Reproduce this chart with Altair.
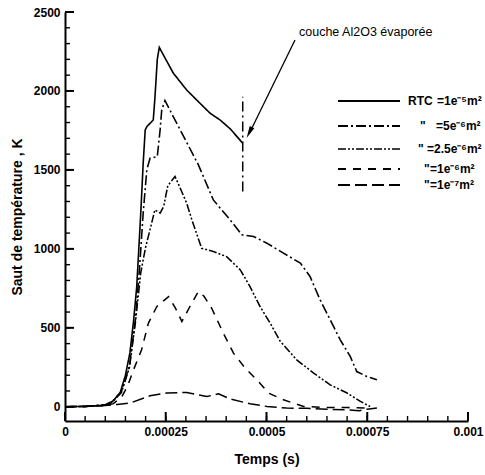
import altair as alt
import pandas as pd

FONT = "Liberation Sans"

# ---------------- data ----------------
SERIES = ["1e-5", "5e-6", "2.5e-6", "1e-6", "1e-7"]
# legend texts: (prefix, value) per row
LEGEND_PREFIX = ["RTC", "\"", "\"", "\"", "\""]
LEGEND_VALUE = ["=1e\u207b\u2075m\u00b2", "=5e\u207b\u2076m\u00b2", "=2.5e\u207b\u2076m\u00b2",
                "=1e\u207b\u2076m\u00b2", "=1e\u207b\u2077m\u00b2"]

T_1E5 = [0, 0.00005, 0.0001, 0.000112, 0.00012, 0.000137, 0.00015, 0.000161, 0.00017, 0.000178,
         0.000188, 0.000194, 0.000199, 0.000203, 0.000219, 0.000223, 0.000229, 0.000234,
         0.00025, 0.000269, 0.000302, 0.000331, 0.00036, 0.000385, 0.00041, 0.000441]
Y_1E5 = [0, 3, 10, 20, 40, 90, 200, 341, 540, 761,
         1226, 1542, 1753, 1774, 1816, 1950, 2200, 2276,
         2200, 2112, 2006, 1932, 1859, 1816, 1760, 1669]

T_5E6 = [0, 0.00005, 0.0001, 0.00012, 0.00014, 0.00016, 0.000175, 0.000185, 0.000194, 0.000203,
         0.000211, 0.000229, 0.000236, 0.00024, 0.000248, 0.000262, 0.000286, 0.000331, 0.000368, 0.00041,
         0.000439, 0.000468, 0.000501, 0.000542, 0.000584, 0.000608, 0.000633, 0.000658, 0.000683, 0.000708,
         0.000724, 0.000749, 0.000774]
Y_5E6 = [0, 2, 12, 40, 95, 260, 560, 880, 1226, 1500,
         1574, 1584, 1753, 1880, 1939, 1870, 1753, 1532, 1310, 1183,
         1089, 1078, 1036, 973, 910, 825, 677, 551, 424, 318,
         223, 192, 171]

T_25E6 = [0, 0.00005, 0.0001, 0.00012, 0.00014, 0.00016, 0.000175, 0.000188, 0.0002, 0.000215,
          0.000223, 0.000236, 0.000245, 0.000255, 0.000273, 0.000285, 0.000302, 0.000315, 0.000339, 0.000368,
          0.000401, 0.000435, 0.000459, 0.000484, 0.000509, 0.000534, 0.000575, 0.000617, 0.000658, 0.0007,
          0.000733, 0.000757]
Y_25E6 = [0, 2, 12, 38, 90, 250, 540, 850, 1010, 1163,
          1247, 1226, 1270, 1400, 1458, 1390, 1289, 1183, 1004, 983,
          951, 867, 761, 635, 530, 415, 297, 213, 139, 87,
          34, 2]

T_1E6 = [0, 0.00005, 0.0001, 0.00012, 0.00014, 0.000155, 0.00017, 0.00019, 0.000207, 0.000228,
         0.000257, 0.000275, 0.00029, 0.00031, 0.000331, 0.000345, 0.000364, 0.000393, 0.000418, 0.000447,
         0.00048, 0.000505, 0.000542, 0.000592, 0.00065, 0.0007, 0.00075]
Y_1E6 = [0, 2, 8, 20, 60, 130, 234, 361, 530, 635,
         698, 620, 540, 635, 730, 700, 624, 466, 340, 245,
         160, 87, 44, 2, -5, -5, -8]

T_1E7 = [0, 0.00005, 0.0001, 0.00013, 0.000161, 0.000211, 0.000253, 0.000302, 0.000352, 0.000381,
         0.00041, 0.000459, 0.000501, 0.00055, 0.0006, 0.00065, 0.0007, 0.00073, 0.00075, 0.000774]
Y_1E7 = [0, 2, 8, 15, 23, 70, 87, 91, 65, 82,
         49, 19, 2, -8, -10, -15, -20, -25, -15, -8]

X_MAJOR = [0, 0.00025, 0.0005, 0.00075, 0.001]
X_MINOR = [round(i * 0.00005, 6) for i in range(21)]
Y_MAJOR = [0, 500, 1000, 1500, 2000, 2500]
Y_MINOR = [i * 100 for i in range(26)]

EVAP_T = [0.000441]
EVAP_LOW = [1363]
EVAP_HIGH = [1964]
ANNOT_TEXT = "couche Al2O3 évaporée"

# ---------------- styles / layout ----------------
DASHES = [[1, 0], [10, 3, 2, 3], [8, 2, 2, 2, 2, 2], [8, 7], [12, 5]]
WIDTHS = [1.6, 1.5, 1.4, 1.8, 1.8]
LEG_Y = [89, 114, 137, 157, 173]
LEG_PREFIX_X = [343, 355, 353, 359, 359]
LEG_VALUE_X = [372, 371, 362, 365, 365]

W, H = 403, 409
X_DOM = [0, 0.001]
Y_DOM = [-90, 2500]
x_scale = alt.Scale(domain=X_DOM, nice=False, zero=False)
y_scale = alt.Scale(domain=Y_DOM, nice=False, zero=False)

PX_X = (X_DOM[1] - X_DOM[0]) / W
PX_Y = (Y_DOM[1] - Y_DOM[0]) / H
MAJOR_LEN, MINOR_LEN = 9, 5

rows = []
for name, ts, vs in zip(SERIES, [T_1E5, T_5E6, T_25E6, T_1E6, T_1E7],
                        [Y_1E5, Y_5E6, Y_25E6, Y_1E6, Y_1E7]):
    for t, v in zip(ts, vs):
        rows.append({"series": name, "t": t, "v": v})
df = pd.DataFrame(rows)

axis_common = dict(grid=False, ticks=False, domainColor="black", domainWidth=2,
                   labelFont=FONT, labelFontWeight="bold", labelFontSize=12, labelColor="black",
                   labelPadding=5, labelFlush=False, labelOverlap=False,
                   titleFont=FONT, titleFontWeight="bold", titleFontSize=14, titleColor="black")

lines = alt.Chart(df).mark_line(color="black", strokeCap="butt").encode(
    x=alt.X("t:Q", scale=x_scale,
            axis=alt.Axis(values=X_MAJOR, labelExpr="format(datum.value, '.5~f')",
                          title="Temps (s)", titlePadding=15, **axis_common)),
    y=alt.Y("v:Q", scale=y_scale,
            axis=alt.Axis(values=Y_MAJOR, format="d", title="Saut de température , K",
                          titlePadding=9, **axis_common)),
    strokeDash=alt.StrokeDash("series:N", scale=alt.Scale(domain=SERIES, range=DASHES), legend=None),
    strokeWidth=alt.StrokeWidth("series:N", scale=alt.Scale(domain=SERIES, range=WIDTHS), legend=None),
)


def xticks(vals, length, width):
    d = pd.DataFrame({"t": vals})
    d["v"] = Y_DOM[0]
    d["v2"] = Y_DOM[0] + length * PX_Y
    return alt.Chart(d).mark_rule(color="black", strokeWidth=width, strokeCap="butt").encode(
        x=alt.X("t:Q", scale=x_scale), y=alt.Y("v:Q", scale=y_scale), y2="v2:Q")


def yticks(vals, length, width):
    d = pd.DataFrame({"v": vals})
    d["t"] = X_DOM[0]
    d["t2"] = X_DOM[0] + length * PX_X
    return alt.Chart(d).mark_rule(color="black", strokeWidth=width, strokeCap="butt").encode(
        y=alt.Y("v:Q", scale=y_scale), x=alt.X("t:Q", scale=x_scale), x2="t2:Q")


x_minor = xticks(X_MINOR, MINOR_LEN, 1.4)
x_major = xticks(X_MAJOR, MAJOR_LEN, 2)
y_minor = yticks(Y_MINOR, MINOR_LEN, 1.4)
y_major = yticks(Y_MAJOR, MAJOR_LEN, 2)

evap = alt.Chart(pd.DataFrame({"t": EVAP_T, "v": EVAP_LOW, "v2": EVAP_HIGH})).mark_rule(
    color="black", strokeWidth=1.5, strokeDash=[10, 4, 2, 4]).encode(
    x=alt.X("t:Q", scale=x_scale), y=alt.Y("v:Q", scale=y_scale), y2="v2:Q")

one = pd.DataFrame({"a": [0]})
annot_text = alt.Chart(one).mark_text(align="left", baseline="middle", font=FONT, fontSize=12.5,
                                      color="black", text=ANNOT_TEXT).encode(
    x=alt.value(234), y=alt.value(20))
arrow_line = alt.Chart(one).mark_rule(color="black", strokeWidth=1.3).encode(
    x=alt.value(230), y=alt.value(28), x2=alt.value(184.5), y2=alt.value(121))
arrow_head = alt.Chart(one).mark_point(shape="M0,-1L0.42,1L-0.42,1Z", filled=True, size=150,
                                       angle=206.2, color="black", opacity=1).encode(
    x=alt.value(184.3), y=alt.value(120.6))

legend_layers = []
for dash, wdt, pre, val, yy, px, vx in zip(DASHES, WIDTHS, LEGEND_PREFIX, LEGEND_VALUE,
                                           LEG_Y, LEG_PREFIX_X, LEG_VALUE_X):
    legend_layers.append(alt.Chart(one).mark_rule(color="black", strokeWidth=wdt + 0.3,
                                                  strokeDash=dash, strokeCap="butt").encode(
        x=alt.value(273), x2=alt.value(335), y=alt.value(yy)))
    for txt, xx in ((pre, px), (val, vx)):
        legend_layers.append(alt.Chart(one).mark_text(align="left", baseline="middle", font=FONT,
                                                      fontSize=12, fontWeight="bold", color="black",
                                                      text=txt).encode(
            x=alt.value(xx), y=alt.value(yy)))

chart = alt.layer(lines, x_minor, x_major, y_minor, y_major, evap, annot_text, arrow_line,
                  arrow_head, *legend_layers).properties(
    width=W, height=H,
    padding={"left": 65, "top": 12, "right": 17, "bottom": 54},
    autosize=alt.AutoSizeParams(type="none"),
    background="white",
).configure_view(strokeWidth=0)

chart.save("out.html", embed_options={"renderer": "svg", "actions": False})
